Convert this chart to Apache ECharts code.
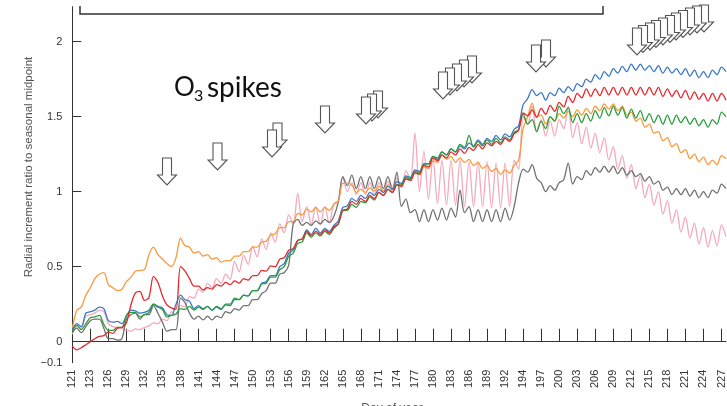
<!DOCTYPE html>
<html><head><meta charset="utf-8">
<script src="https://cdn.jsdelivr.net/npm/echarts@6/dist/echarts.min.js"></script>
<style>html,body{margin:0;padding:0;background:#fff;}#c{width:727px;height:406px;}</style>
</head><body><div id="c"></div>
<script>
// Day-of-year tick labels (equally spaced on the axis)
const tickLabels = ['121','123','126','129','132','135','138','141','144','147','150','153','156','159','162','165','168','171','174','177','180','183','186','189','192','194','197','200','203','206','209','212','215','218','221','224','227'];

// Series values (radial increment ratio), 4 samples per tick interval
const blue = [.08,.12,.10,.19,.20,.21,.23,.22,.14,.13,
.135,.12,.17,.21,.205,.19,.195,.21,.25,.235,
.225,.18,.175,.25,.31,.28,.27,.22,.24,.22,
.235,.21,.23,.215,.245,.24,.28,.28,.31,.305,
.34,.34,.39,.40,.44,.44,.50,.52,.59,.61,
.675,.685,.745,.715,.755,.725,.755,.735,.775,.805,
.895,.905,.955,.935,.975,.955,.995,.975,1.015,.995,
1.035,1.015,1.065,1.055,1.105,1.095,1.145,1.135,1.185,1.185,
1.235,1.215,1.265,1.245,1.285,1.265,1.305,1.285,1.325,1.305,
1.345,1.315,1.355,1.335,1.375,1.345,1.385,1.365,1.415,1.44,
1.58,1.62,1.68,1.64,1.66,1.61,1.66,1.64,1.69,1.66,
1.70,1.67,1.72,1.70,1.75,1.73,1.78,1.75,1.80,1.77,
1.82,1.79,1.835,1.80,1.85,1.81,1.85,1.81,1.84,1.80,
1.84,1.79,1.83,1.79,1.82,1.78,1.82,1.77,1.81,1.76,
1.80,1.76,1.81,1.78,1.83,1.80];

const red = [-.03,-.055,-.04,-.02,.00,.02,.035,.04,.065,.055,
.09,.095,.125,.245,.325,.335,.275,.295,.435,.395,
.305,.245,.225,.215,.50,.47,.42,.37,.37,.345,
.36,.35,.38,.37,.395,.38,.405,.39,.42,.41,
.44,.44,.475,.47,.505,.50,.55,.56,.61,.62,
.675,.685,.735,.705,.735,.715,.745,.725,.765,.785,
.875,.885,.935,.915,.955,.935,.975,.955,.995,.975,
1.015,.995,1.045,1.035,1.085,1.075,1.125,1.115,1.175,1.165,
1.225,1.205,1.245,1.225,1.265,1.245,1.285,1.255,1.295,1.275,
1.315,1.285,1.325,1.305,1.335,1.315,1.355,1.335,1.385,1.41,
1.525,1.505,1.545,1.495,1.555,1.515,1.575,1.535,1.595,1.565,
1.635,1.595,1.655,1.625,1.685,1.635,1.685,1.64,1.695,1.645,
1.695,1.645,1.695,1.645,1.695,1.645,1.695,1.645,1.695,1.645,
1.695,1.635,1.685,1.635,1.675,1.625,1.675,1.615,1.665,1.615,
1.655,1.605,1.655,1.605,1.655,1.61];

const green = [.07,.11,.08,.12,.16,.165,.175,.115,.075,.075,
.095,.095,.175,.195,.195,.165,.18,.195,.25,.23,
.215,.165,.175,.185,.22,.215,.235,.21,.23,.215,
.235,.21,.235,.22,.25,.25,.29,.28,.31,.305,
.34,.34,.385,.39,.43,.43,.48,.50,.57,.59,
.655,.665,.725,.695,.725,.705,.735,.715,.755,.785,
.875,.875,.915,.895,.935,.925,.965,.945,.995,.975,
1.015,.995,1.045,1.045,1.095,1.085,1.135,1.125,1.185,1.185,
1.235,1.225,1.265,1.245,1.285,1.265,1.315,1.295,1.375,1.295,
1.335,1.305,1.345,1.315,1.355,1.325,1.365,1.345,1.395,1.415,
1.52,1.45,1.48,1.40,1.47,1.42,1.50,1.47,1.57,1.52,
1.56,1.46,1.52,1.46,1.52,1.47,1.54,1.49,1.56,1.505,
1.57,1.51,1.56,1.49,1.55,1.49,1.54,1.47,1.52,1.46,
1.51,1.45,1.51,1.45,1.51,1.46,1.50,1.45,1.49,1.44,
1.48,1.43,1.48,1.45,1.53,1.50];

const orange = [.09,.21,.23,.31,.36,.42,.45,.46,.38,.36,
.34,.35,.40,.43,.47,.475,.48,.58,.63,.58,
.55,.52,.50,.56,.69,.64,.63,.59,.60,.57,
.58,.55,.56,.53,.54,.54,.57,.57,.60,.60,
.63,.63,.665,.67,.71,.72,.76,.76,.80,.80,
.855,.845,.885,.865,.895,.865,.895,.875,.915,.935,
1.055,1.055,1.045,.995,1.015,.995,1.025,1.005,1.035,1.005,
1.045,1.025,1.065,1.045,1.085,1.075,1.125,1.115,1.165,1.155,
1.205,1.195,1.245,1.215,1.235,1.195,1.225,1.195,1.215,1.175,
1.195,1.155,1.175,1.135,1.155,1.115,1.145,1.125,1.175,1.21,
1.42,1.50,1.59,1.50,1.51,1.45,1.50,1.47,1.52,1.49,
1.535,1.50,1.545,1.51,1.555,1.52,1.57,1.54,1.585,1.55,
1.585,1.54,1.57,1.51,1.53,1.47,1.49,1.43,1.45,1.39,
1.40,1.34,1.36,1.30,1.32,1.26,1.28,1.22,1.25,1.20,
1.23,1.18,1.21,1.18,1.24,1.22];

const grey = [.06,.09,.06,.10,.14,.15,.15,.09,.02,.02,
.01,.02,.15,.18,.19,.15,.18,.18,.24,.19,
.13,.07,.08,.08,.29,.26,.19,.15,.17,.145,
.17,.145,.17,.16,.20,.19,.22,.21,.24,.24,
.28,.28,.32,.34,.39,.39,.45,.46,.51,.785,
.815,.775,.795,.775,.805,.785,.815,.795,.835,.93,
1.10,1.04,1.11,1.02,1.10,1.02,1.10,1.02,1.10,1.02,
1.10,1.02,1.13,.90,.95,.86,.88,.80,.88,.80,
.88,.81,.89,.81,.89,.83,1.01,.86,.90,.80,
.88,.80,.88,.80,.88,.80,.89,.81,.90,1.06,
1.15,1.13,1.18,1.09,1.06,1.00,1.04,1.01,1.06,1.08,
1.19,1.05,1.10,1.08,1.14,1.11,1.16,1.13,1.17,1.13,
1.17,1.12,1.16,1.11,1.14,1.10,1.12,1.07,1.10,1.05,
1.07,1.01,1.03,.98,1.02,.98,1.02,.97,1.01,.96,
1.00,.96,1.01,.99,1.05,1.02];

const pink = [.05,.10,.09,.17,.18,.19,.21,.20,.12,.10,
.095,.09,.075,.07,.085,.08,.095,.105,.125,.12,
.15,.14,.20,.18,.24,.23,.30,.29,.35,.33,
.39,.36,.42,.39,.45,.415,.535,.465,.575,.515,
.635,.565,.685,.615,.725,.665,.785,.725,.845,.785,
.99,.80,.90,.78,.90,.78,.90,.79,.92,.94,
1.10,1.00,1.06,.98,1.06,.98,1.06,.98,1.06,.99,
1.07,1.00,1.09,1.03,1.14,1.08,1.39,1.00,1.27,.95,
1.23,.92,1.21,.91,1.21,.91,1.21,.90,1.20,.90,
1.20,.90,1.20,.89,1.19,.89,1.19,.90,1.21,1.15,
1.50,1.45,1.57,1.40,1.48,1.37,1.47,1.37,1.48,1.42,
1.57,1.36,1.46,1.32,1.43,1.29,1.39,1.26,1.36,1.21,
1.30,1.15,1.24,1.09,1.18,1.02,1.11,.96,1.05,.91,
1.00,.85,.94,.79,.88,.73,.83,.69,.79,.65,
.76,.63,.74,.64,.78,.70];

// O3 spike arrow annotations: [centre x, top y] in pixels
const arrows = [
  [167,158],[217.5,143],
  [277.5,123],[272,130],
  [325,106],
  [378,91],[372,94],[366,97],
  [472,56],[464,60],[457,64],[450,68],[443,72],
  [546,40],[536,45],
  [704,5],[697,6],[690,8],[683,10.5],[676,13],[670,15.5],[663,18],[656,20.5],[650,23],[643,25.5],[637,28]
];

const cats = [];
for (let i = 0; i < blue.length; i++) {
  const k = Math.floor(i / 4);
  cats.push(i % 4 === 0 ? tickLabels[k] : tickLabels[k] + '.' + (i % 4));
}

const graphics = [];
arrows.forEach(([cx, t]) => {
  const sw = 4.5, hw = 9.5, sh = 17, h = 27;
  graphics.push({
    type: 'polygon',
    shape: { points: [[cx-sw,t],[cx+sw,t],[cx+sw,t+sh],[cx+hw,t+sh],[cx,t+h],[cx-hw,t+sh],[cx-sw,t+sh]] },
    style: { fill: '#fff', stroke: '#555', lineWidth: 1.1 },
    z: 10
  });
});
graphics.push({
  type: 'polyline',
  shape: { points: [[80,6],[80,14],[603,14],[603,6]] },
  style: { stroke: '#333', lineWidth: 1.5, fill: null },
  z: 10
});
graphics.push({ type:'text', x:174, y:75, style:{ text:'O', font:'26px Lato', fill:'#111', verticalAlign:'top' }, z: 10 });
graphics.push({ type:'text', x:194, y:88, style:{ text:'3', font:'16px Lato', fill:'#111', verticalAlign:'top' }, z: 10 });
graphics.push({ type:'text', x:207, y:74, style:{ text:'spikes', font:'28px Lato', fill:'#111', verticalAlign:'top' }, z: 10 });
graphics.push({ type:'text', x:29, y:167, rotation: Math.PI/2,
  style:{ text:'Radial increment ratio to seasonal midpoint', font:'11.5px "Liberation Sans"', fill:'#555', align:'center', verticalAlign:'middle' }, z: 10 });
graphics.push({ type:'text', x:392, y:403, style:{ text:'Day of year', font:'12px "Liberation Sans"', fill:'#555', align:'center', verticalAlign:'top' }, z: 10 });

function mk(name, data, color) {
  return { name, type: 'line', data, symbol: 'none', smooth: 0.3,
    lineStyle: { color, width: 1.3 }, itemStyle: { color }, animation: false };
}

const chart = echarts.init(document.getElementById('c'));
chart.setOption({
  animation: false,
  grid: { left: 72.3, right: 0, top: 6.7, bottom: 43.3 },
  xAxis: {
    type: 'category', data: cats, boundaryGap: false,
    axisLine: { lineStyle: { color: '#333', width: 1 } },
    axisTick: { inside: true, length: 13, interval: 3, lineStyle: { color: '#333' } },
    axisLabel: { interval: 3, rotate: 90, fontSize: 11, color: '#333', margin: 7, fontFamily: 'Liberation Sans' },
    splitLine: { show: false }
  },
  yAxis: {
    type: 'value', min: -0.14, max: 2.233,
    axisLine: { show: true, lineStyle: { color: '#333', width: 1 } },
    axisTick: { show: true, inside: true, length: 9, customValues: [0, 0.5, 1, 1.5, 2], lineStyle: { color: '#333' } },
    axisLabel: { customValues: [-0.14, 0, 0.5, 1, 1.5, 2], fontSize: 11, color: '#333', margin: 10, fontFamily: 'Liberation Sans',
      formatter: v => v < -0.05 ? '\u22120.1' : String(v) },
    splitLine: { show: false }
  },
  series: [
    mk('pink', pink, '#f4a9bd'),
    mk('grey', grey, '#707070'),
    mk('orange', orange, '#f89a3c'),
    mk('blue', blue, '#3a79c6'),
    mk('green', green, '#2a9e3a'),
    mk('red', red, '#e5282c')
  ],
  graphic: graphics
});
</script>
</body></html>
